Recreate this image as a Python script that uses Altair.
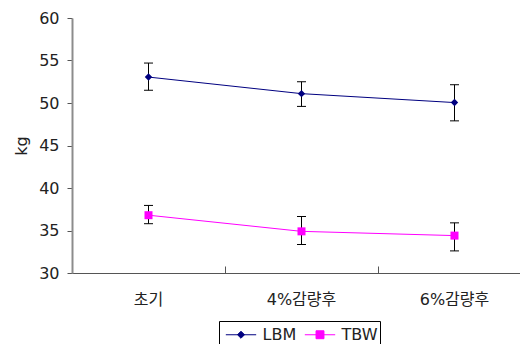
import altair as alt
import pandas as pd

categories = ["초기", "4%감량후", "6%감량후"]
series_names = ["LBM", "TBW"]
series_colors = ["#000080", "#FF00FF"]

lbm_mean = [53.05, 51.1, 50.05]
lbm_upper = [54.7, 52.5, 52.15]
lbm_lower = [51.5, 49.6, 47.9]

tbw_mean = [36.8, 34.9, 34.4]
tbw_upper = [37.95, 36.65, 35.9]
tbw_lower = [35.8, 33.35, 32.6]

y_ticks = [30, 35, 40, 45, 50, 55, 60]

legend_paths = [
    "M-1.38,0H1.38M0,-0.32L0.32,0L0,0.32L-0.32,0Z",
    "M-1.38,0H1.38M-0.36,-0.36H0.36V0.36H-0.36Z",
]

rows = []
for name, means, lows, highs in [
    ("LBM", lbm_mean, lbm_lower, lbm_upper),
    ("TBW", tbw_mean, tbw_lower, tbw_upper),
]:
    for c, m, lo, hi in zip(categories, means, lows, highs):
        rows.append({"category": c, "series": name, "mean": m, "lower": lo, "upper": hi})
df = pd.DataFrame(rows)

FONT = "DejaVu Sans, Noto Sans CJK KR"
TXT = "#222222"

x_scale = alt.Scale(type="band", domain=categories, paddingInner=0, paddingOuter=0, range=[0, 459])
y_scale = alt.Scale(domain=[30, 60], nice=False, zero=False)
color_scale = alt.Scale(domain=series_names, range=series_colors)

y_axis = alt.Axis(
    values=y_ticks, title="kg", titleFont=FONT, titleFontSize=16, titleFontWeight="normal",
    titleColor=TXT, titlePadding=9, labelFont=FONT, labelFontSize=16, labelColor=TXT,
    labelPadding=8, tickSize=5, tickColor="#555555", domainColor="#8c8c8c", domainWidth=2,
    grid=False,
)
x_axis_bottom = alt.Axis(
    title=None, orient="bottom", ticks=False, domain=True, domainColor="#555555",
    domainWidth=1, labelFont=FONT, labelFontSize=16, labelColor=TXT, labelPadding=18,
    labelAngle=0, grid=False,
)
x_axis_top = alt.Axis(
    title=None, orient="top", offset=-255, labels=False, domain=False, ticks=True,
    tickSize=7, tickColor="#555555", bandPosition=0, grid=False,
)

legend_def = alt.Legend(
    title=None, orient="none", legendX=147, legendY=303, direction="horizontal",
    strokeColor="black", padding=2, symbolSize=484, symbolStrokeWidth=1,
    labelFont=FONT, labelFontSize=16, labelColor=TXT, labelOffset=10,
    columnPadding=3, symbolOffset=8.5,
)

base = alt.Chart(df)

line = base.mark_line(strokeWidth=1).encode(
    x=alt.X("category:N", scale=x_scale, sort=categories, axis=x_axis_bottom),
    y=alt.Y("mean:Q", scale=y_scale, axis=y_axis),
    color=alt.Color("series:N", scale=color_scale, legend=legend_def),
)

rule = base.mark_rule(color="black", strokeWidth=1).encode(
    x=alt.X("category:N", scale=x_scale, sort=categories, axis=x_axis_top),
    y=alt.Y("lower:Q", scale=y_scale, axis=y_axis),
    y2="upper:Q",
)

cap_lo = base.mark_tick(color="black", size=9, thickness=1, opacity=1).encode(
    x=alt.X("category:N", scale=x_scale, sort=categories, axis=None),
    y=alt.Y("lower:Q", scale=y_scale, axis=y_axis),
)
cap_hi = base.mark_tick(color="black", size=9, thickness=1, opacity=1).encode(
    x=alt.X("category:N", scale=x_scale, sort=categories, axis=None),
    y=alt.Y("upper:Q", scale=y_scale, axis=y_axis),
)

# legend source: shape scale with line+marker symbols (drawn tiny under the real markers)
legend_src = base.mark_point(filled=True, opacity=1).encode(
    x=alt.X("category:N", scale=x_scale, sort=categories, axis=None),
    y=alt.Y("mean:Q", scale=y_scale, axis=y_axis),
    color=alt.Color("series:N", scale=color_scale, legend=legend_def),
    shape=alt.Shape("series:N", scale=alt.Scale(domain=series_names, range=legend_paths),
                    legend=legend_def),
    size=alt.condition("datum.series == 'LBM'", alt.value(1), alt.value(1)),
)

points = base.mark_point(filled=True, opacity=1).encode(
    x=alt.X("category:N", scale=x_scale, sort=categories, axis=None),
    y=alt.Y("mean:Q", scale=y_scale, axis=y_axis),
    color=alt.condition("datum.series == 'LBM'", alt.value(series_colors[0]), alt.value(series_colors[1])),
    shape=alt.condition("datum.series == 'LBM'", alt.value("diamond"), alt.value("square")),
    size=alt.condition("datum.series == 'LBM'", alt.value(55), alt.value(64)),
)

chart = (
    alt.layer(line, rule, cap_lo, cap_hi, legend_src, points)
    .resolve_axis(x="independent")
    .properties(
        width=448, height=255, autosize=alt.AutoSizeParams(type="none"),
        padding={"left": 64, "top": 10, "right": 0, "bottom": 71},
        background="white",
    )
    .configure_view(stroke=None)
)

chart.save("out.html", embed_options={"renderer": "svg", "actions": False})
